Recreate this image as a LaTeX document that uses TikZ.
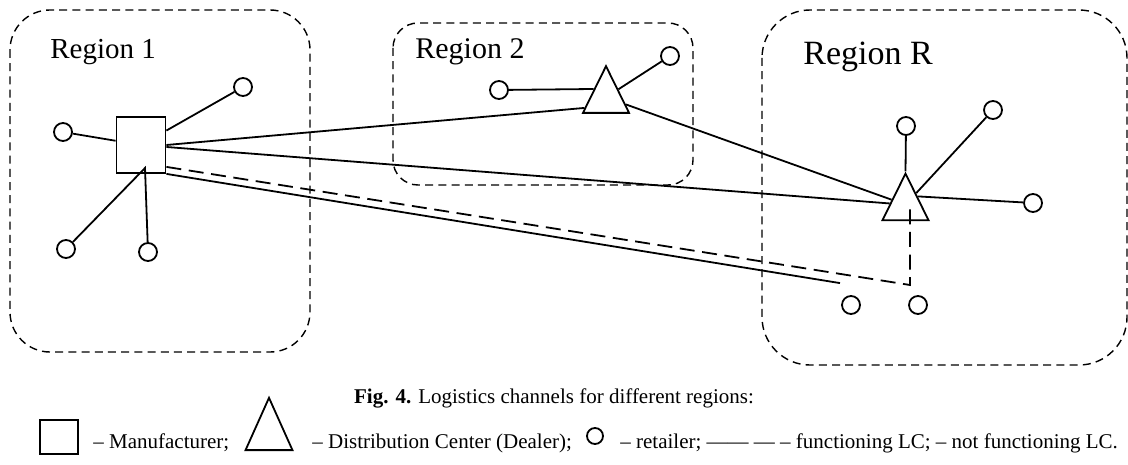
\documentclass[tikz,border=0pt]{standalone}
\usepackage{fontspec}
\setmainfont{Liberation Serif}
\usetikzlibrary{calc,shapes.geometric}

\tikzset{
  region/.style={draw, line width=0.7pt, dash pattern=on 4pt off 2.6pt},
  plant/.style={rectangle, draw, line width=0.9pt, inner sep=0pt, minimum width=24.5pt, minimum height=28pt},
  shop/.style={circle, draw, line width=0.9pt, inner sep=0pt, minimum size=9pt},
  dealer/.style={regular polygon, regular polygon sides=3, draw, line width=0.9pt, inner sep=0pt, minimum size=26.6pt, yscale=1.17},
  link/.style={line width=0.9pt},
  nolink/.style={line width=0.9pt, dash pattern=on 7.5pt off 3.8pt},
  regtext/.style={anchor=base west, inner sep=0pt},
  lbl/.style={anchor=base west, inner sep=0pt, font=\fontsize{10.5}{12}\selectfont},
}

\begin{document}
\begin{tikzpicture}[x=0.5pt, y=-0.5pt]
	%%%%% FRAME %%%%%
	\useasboundingbox (0,0) rectangle (1128,465);
	
	%%%%% REGIONS %%%%%
	\draw[region, rounded corners=20pt] (10,10) rectangle (310,352);
	\draw[region, rounded corners=12.5pt] (393,23) rectangle (693,185);
	\draw[region, rounded corners=24pt] (762,10) rectangle (1127,365);
	
	\node[regtext, font=\fontsize{14.5}{17}\selectfont] (reg1) at (50,59) {Region 1};
	\node[regtext, font=\fontsize{15}{18}\selectfont] (reg2) at (415,59) {Region 2};
	\node[regtext, font=\fontsize{17}{20}\selectfont] (regR) at (803,65) {Region R};
	
	%%%%% REGION 1 %%%%%
	\node[plant] (maker) at (141,145) {};
	\coordinate (makerfoot) at (145,168);
	\node[shop] (s11) at (63,132) {};
	\node[shop] (s12) at (243,87) {};
	\node[shop] (s13) at (66,249) {};
	\node[shop] (s14) at (148,252) {};
	
	%%%%% REGION 2 %%%%%
	\node[dealer] (dc2) at (606,97.3) {};
	\node[shop] (s21) at (499,90) {};
	\node[shop] (s22) at (670,56) {};
	
	%%%%% REGION R %%%%%
	\node[dealer] (dcR) at (905.5,204.7) {};
	\node[shop] (sR1) at (906,126) {};
	\node[shop] (sR2) at (993,110) {};
	\node[shop] (sR3) at (1033,203) {};
	\node[shop] (sR4) at (851,305) {};
	\node[shop] (sR5) at (918,305) {};
	\coordinate (endR4) at ($(sR4.north)+(-11,-12)$);
	\coordinate (bendR) at (910,285);
	
	%%%%% CHANNELS %%%%%
	\draw[link] (s11) -- (maker);
	\draw[link] (s12) -- (maker);
	\draw[link] (s13) -- (makerfoot) -- (s14);
	\draw[link] (maker.east) -- ($(dc2.corner 2)!0.12!(dc2.corner 1)$);
	\draw[link] (maker) -- (dcR);
	\draw[link] (maker.south east) -- (endR4);
	\draw[nolink] ($(maker.south east)+(0,-7)$) -- (bendR) -- (bendR |- dcR.center);
	
	\draw[link] (s21) -- (dc2.side 1);
	\draw[link] (s22) -- (dc2);
	\draw[link] (dc2) -- (dcR);
	
	\draw[link] (sR1) -- (dcR.corner 1);
	\draw[link] (sR2) -- (dcR);
	\draw[link] (dcR.side 3) -- (sR3);
	
	%%%%% CAPTION %%%%%
	\node[lbl, anchor=base] (caption) at (554,403) {\textbf{Fig. 4.} Logistics channels for different regions:};
	
	\node[plant, minimum width=19pt, minimum height=17pt] (keyplant) at (59,437) {};
	\node[lbl] (keyplanttext) at (93,448) {– Manufacturer;};
	\node[dealer, minimum size=27.1pt, yscale=1.1] (keydealer) at (269,432.7) {};
	\node[lbl] (keydealertext) at (312,448) {– Distribution Center (Dealer);};
	\node[shop, minimum size=8pt] (keyshop) at (595,436) {};
	\node[lbl] (keyshoptext) at (620,448) {– retailer; —— — – functioning LC; – not functioning LC.};
\end{tikzpicture}
\end{document}
